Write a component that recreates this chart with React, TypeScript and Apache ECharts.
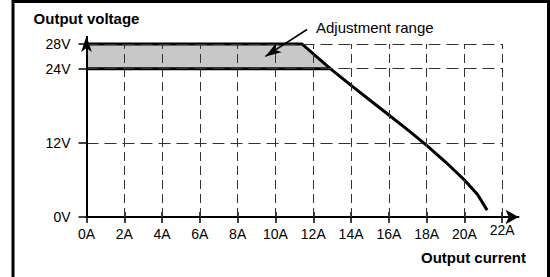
import React, { useEffect, useRef } from "react";
import * as echarts from "echarts";

// Tick values
const xTicks = [0, 2, 4, 6, 8, 10, 12, 14, 16, 18, 20, 22];
const yTicks = [0, 12, 24, 28];

// Output characteristic (A, V)
const upperCurve = [
  [0, 28], [11.4, 28], [12.9, 24], [14, 21.3], [15, 18.9], [16, 16.5],
  [17, 14.1], [18, 11.6], [19, 8.9], [20, 6.0], [20.7, 3.6], [21.2, 1.1],
];
const lowerLine = [[0, 24], [12.9, 24]];
const adjustBand = [[0, 28], [11.4, 28], [12.9, 24]];
const bandBase = 24;

// Grid lines
const vGridX = [2, 4, 6, 8, 10, 12, 14, 16, 18, 20, 22];
const hGridY = [12, 24, 28];
const gridTopV = 28;
const gridRightA = 22;

// axis extents (room for the arrows)
const X_MAX = 22.86;
const Y_MAX = 29.29;

const FONT = "Liberation Sans, Arial, sans-serif";

export default function App() {
  const ref = useRef<HTMLDivElement>(null);
  useEffect(() => {
    document.body.style.margin = "0";
    const chart = echarts.init(ref.current!, null, { renderer: "svg" });
    const gridLines: any[] = [];
    vGridX.forEach((x) =>
      gridLines.push([
        { coord: [x, 0], lineStyle: { type: [9, 5] } },
        { coord: [x, gridTopV] },
      ])
    );
    hGridY.forEach((y) =>
      gridLines.push([
        { coord: [0, y], lineStyle: { type: [12, 6] } },
        { coord: [gridRightA, y] },
      ])
    );
    const lastX = xTicks[xTicks.length - 1];
    chart.setOption({
      animation: false,
      textStyle: { fontFamily: FONT },
      grid: { left: 86.5, right: 31.5, top: 36, bottom: 60, containLabel: false },
      xAxis: [
        {
          type: "value",
          min: 0,
          max: X_MAX,
          position: "bottom",
          splitLine: { show: false },
          axisLine: {
            show: true,
            onZero: false,
            lineStyle: { color: "#000", width: 2 },
            symbol: ["none", "arrow"],
            symbolSize: [11, 13],
          },
          axisTick: {
            show: true,
            customValues: xTicks,
            length: 6,
            lineStyle: { color: "#000", width: 1.5 },
          },
          axisLabel: {
            customValues: xTicks.slice(0, -1),
            formatter: (v: number) => v + "A",
            margin: 10,
            fontSize: 14,
            color: "#000",
            fontFamily: FONT,
          },
          name: "Output current",
          nameLocation: "end",
          nameGap: 7.5,
          nameTextStyle: {
            fontWeight: "bold",
            fontSize: 15,
            color: "#000",
            fontFamily: FONT,
            align: "right",
            verticalAlign: "top",
            padding: [33, 0, 0, 0],
          },
        },
        {
          type: "value",
          min: 0,
          max: X_MAX,
          position: "bottom",
          splitLine: { show: false },
          axisLine: { show: false },
          axisTick: {
            show: true,
            inside: true,
            customValues: xTicks,
            length: 5,
            lineStyle: { color: "#000", width: 1.5 },
          },
          axisLabel: {
            customValues: [lastX],
            formatter: (v: number) => v + "A",
            margin: 6,
            fontSize: 14,
            color: "#000",
            fontFamily: FONT,
          },
        },
      ],
      yAxis: {
        type: "value",
        min: 0,
        max: Y_MAX,
        position: "left",
        splitLine: { show: false },
        axisLine: { show: false },
        axisTick: {
          show: true,
          customValues: yTicks,
          length: 8,
          lineStyle: { color: "#000", width: 1.5 },
        },
        axisLabel: {
          customValues: yTicks,
          formatter: (v: number) => v + "V",
          margin: 16,
          fontSize: 14,
          color: "#000",
          fontFamily: FONT,
        },
        name: "Output voltage",
        nameLocation: "end",
        nameGap: 10,
        nameTextStyle: {
          fontWeight: "bold",
          fontSize: 15,
          color: "#000",
          fontFamily: FONT,
          align: "center",
          verticalAlign: "bottom",
        },
      },
      series: [
        {
          name: "Adjustment range",
          type: "line",
          data: adjustBand,
          symbol: "none",
          lineStyle: { width: 0 },
          areaStyle: { color: "#c8c8c8", opacity: 1, origin: bandBase },
          z: 1,
          silent: true,
        },
        {
          name: "grid",
          type: "line",
          data: [],
          z: 2,
          markLine: {
            silent: true,
            symbol: ["none", "none"],
            animation: false,
            label: { show: false },
            lineStyle: { color: "#333", width: 1 },
            data: gridLines,
          },
        },
        {
          name: "Output",
          type: "line",
          data: upperCurve,
          symbol: "none",
          lineStyle: { color: "#000", width: 3, join: "miter" },
          z: 3,
        },
        {
          name: "Output 24V",
          type: "line",
          data: lowerLine,
          symbol: "none",
          lineStyle: { color: "#000", width: 3 },
          z: 3,
        },
        {
          name: "annotation",
          type: "line",
          data: [],
          clip: false,
          z: 4,
          markLine: {
            silent: true,
            animation: false,
            symbol: ["none", "arrow"],
            label: { show: false },
            lineStyle: { color: "#000", type: "solid" },
            data: [
              [
                { x: 307, y: 29.5, symbolSize: [9, 13], lineStyle: { width: 1.5 } },
                { x: 265.4, y: 56.4 },
              ],
              [
                { coord: [0, 0], symbolSize: [11, 13], lineStyle: { width: 2 } },
                { coord: [0, Y_MAX] },
              ],
            ],
          },
        },
      ],
      graphic: [
        {
          type: "rect",
          shape: { x: 13, y: 1.5, width: 535.5, height: 320 },
          style: { fill: "none", stroke: "#000", lineWidth: 3 },
          silent: true,
        },
        {
          type: "text",
          x: 316,
          y: 27.5,
          style: {
            text: "Adjustment range",
            fontSize: 15,
            fontFamily: FONT,
            fill: "#000",
            textAlign: "left",
            textVerticalAlign: "middle",
          },
        },
      ],
    });
    return () => chart.dispose();
  }, []);
  return <div ref={ref} style={{ width: 550, height: 277 }} />;
}
